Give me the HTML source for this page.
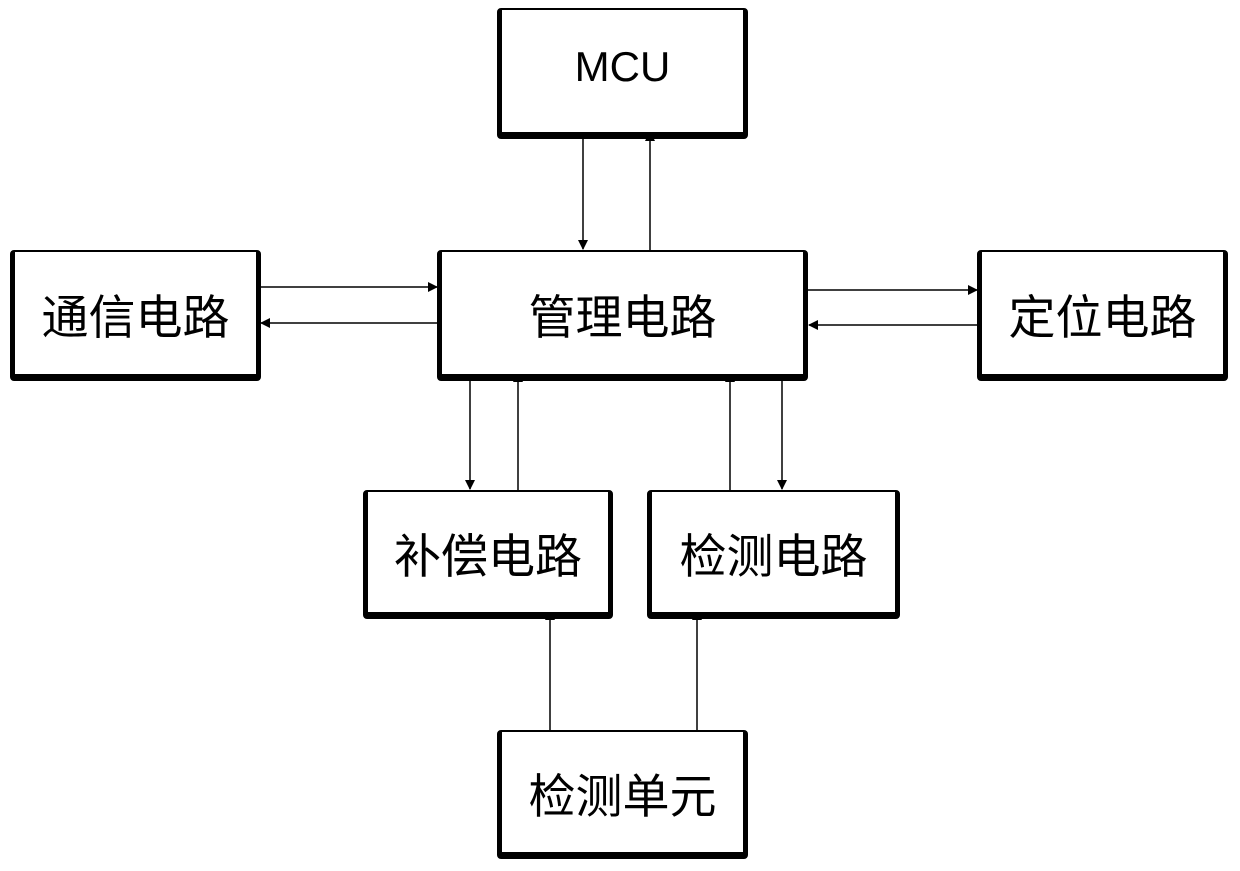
<!DOCTYPE html>
<html><head><meta charset="utf-8"><style>
html,body{margin:0;padding:0;background:#fff;}
body{width:1240px;height:871px;position:relative;overflow:hidden;}
.b{position:absolute;box-sizing:border-box;border-style:solid;border-color:#000;border-width:2px 5px 7px 5px;border-radius:4px;background:#fff;display:flex;align-items:center;justify-content:center;font-family:"Liberation Sans","Noto Sans CJK SC",sans-serif;font-size:47px;color:#000;}
svg{position:absolute;left:0;top:0;}
</style></head><body>
<svg width="1240" height="871">
<defs><marker id="a" markerWidth="10" markerHeight="10" refX="9" refY="5" orient="auto" markerUnits="userSpaceOnUse"><path d="M0,0 L10,5 L0,10 z" fill="#000"/></marker></defs>
<g stroke="#000" stroke-width="1.5" fill="none">
<line x1="583" y1="138" x2="583" y2="249" marker-end="url(#a)"/>
<line x1="650" y1="250" x2="650" y2="132" marker-end="url(#a)"/>
<line x1="260" y1="287" x2="437" y2="287" marker-end="url(#a)"/>
<line x1="437" y1="323" x2="261" y2="323" marker-end="url(#a)"/>
<line x1="808" y1="290" x2="977" y2="290" marker-end="url(#a)"/>
<line x1="977" y1="325" x2="809" y2="325" marker-end="url(#a)"/>
<line x1="470" y1="380" x2="470" y2="489" marker-end="url(#a)"/>
<line x1="518" y1="490" x2="518" y2="373" marker-end="url(#a)"/>
<line x1="730" y1="490" x2="730" y2="373" marker-end="url(#a)"/>
<line x1="782" y1="380" x2="782" y2="489" marker-end="url(#a)"/>
<line x1="550" y1="730" x2="550" y2="611" marker-end="url(#a)"/>
<line x1="697" y1="730" x2="697" y2="611" marker-end="url(#a)"/>
</g>
</svg>
<div class="b" style="left:497px;top:8px;width:251px;height:131px;font-size:42px;padding-bottom:8px;">MCU</div>
<div class="b" style="left:10px;top:250px;width:251px;height:131px;">通信电路</div>
<div class="b" style="left:437px;top:250px;width:371px;height:131px;">管理电路</div>
<div class="b" style="left:977px;top:250px;width:251px;height:131px;">定位电路</div>
<div class="b" style="left:363px;top:490px;width:250px;height:129px;">补偿电路</div>
<div class="b" style="left:647px;top:490px;width:253px;height:129px;">检测电路</div>
<div class="b" style="left:497px;top:730px;width:251px;height:129px;">检测单元</div>
</body></html>
